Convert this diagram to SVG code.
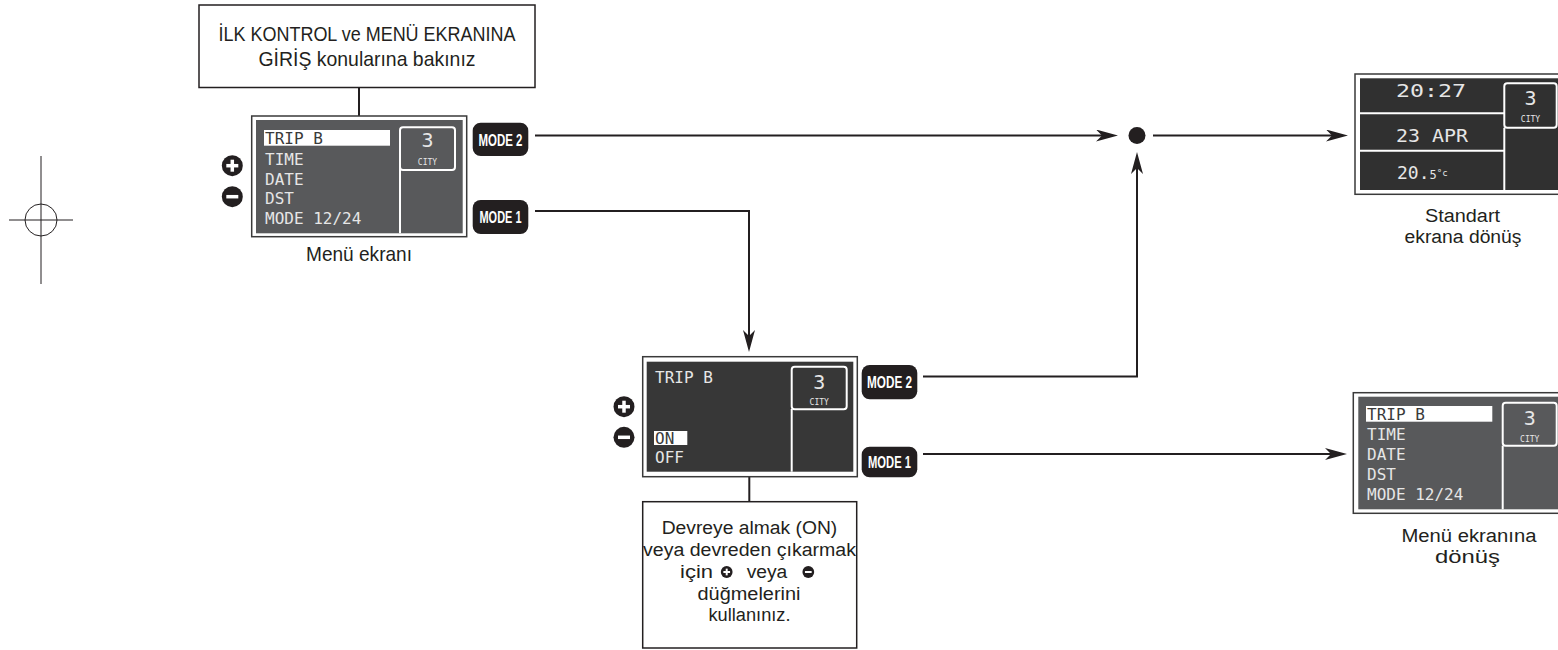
<svg xmlns="http://www.w3.org/2000/svg" width="1558" height="650" viewBox="0 0 1558 650">
<style>
.box{fill:#fff;stroke:#231f20;stroke-width:1.5}
.lbl{font-family:"Liberation Sans",Arial,sans-serif;font-size:21px;fill:#231f20}
.lbs{font-family:"Liberation Sans",Arial,sans-serif;font-size:18px;fill:#231f20}
.scr-o{fill:#fff;stroke:#3a3a3a;stroke-width:1.5}
.lcd{font-family:"DejaVu Sans Mono","Liberation Mono",monospace;font-size:16px;fill:#e6e6e6}
.lcd-hl{font-family:"DejaVu Sans Mono","Liberation Mono",monospace;font-size:16px;fill:#3a3a3a}
.hl{fill:#fff}
.div{stroke:#fff;stroke-width:2;fill:none}
.city{stroke:#fff;stroke-width:2}
.three{font-family:"DejaVu Sans Mono",monospace;font-size:20px;fill:#e6e6e6;text-anchor:middle}
.citytx{font-family:"DejaVu Sans Mono",monospace;font-size:8px;fill:#e6e6e6;text-anchor:middle}
.btn{fill:#231f20}
.btntx{font-family:"Liberation Sans",Arial,sans-serif;font-weight:bold;font-size:17px;fill:#fff}
.con{stroke:#231f20;stroke-width:2;fill:none}
.ico{fill:#231f20}
.icol{stroke:#fff;stroke-width:3.5;stroke-linecap:butt}
</style>
<defs>
<marker id="arr" markerUnits="userSpaceOnUse" markerWidth="24" markerHeight="14" refX="14" refY="6" orient="auto">
<path d="M0,0 L22,6 L0,12 L6,6 Z" fill="#231f20"/>
</marker>
<g id="plus"><circle r="10.5" class="ico"/><line x1="-6" y1="0" x2="6" y2="0" class="icol"/><line x1="0" y1="-6" x2="0" y2="6" class="icol"/></g>
<g id="minus"><circle r="10.5" class="ico"/><line x1="-6" y1="0" x2="6" y2="0" class="icol"/></g>
</defs>

<!-- registration mark -->
<g id="regmark" stroke="#231f20" stroke-width="1" fill="none">
<circle cx="41" cy="220" r="16"/>
<line x1="9" y1="220" x2="73" y2="220"/>
<line x1="41" y1="156" x2="41" y2="284"/>
</g>

<g id="connectors">
<line class="con" x1="359" y1="87.5" x2="359" y2="116"/>
<line class="con" x1="535" y1="135.5" x2="1110" y2="135.5" marker-end="url(#arr)"/>
<polyline class="con" points="535,211 749,211 749,344" marker-end="url(#arr)"/>
<line class="con" x1="749.3" y1="476.7" x2="749.3" y2="501.7"/>
<polyline class="con" points="923,376.5 1137,376.5 1137,160" marker-end="url(#arr)"/>
<line class="con" x1="923" y1="454" x2="1339" y2="454" marker-end="url(#arr)"/>
<line class="con" x1="1153" y1="135.5" x2="1340" y2="135.5" marker-end="url(#arr)"/>
<circle cx="1137" cy="135.5" r="8.5" fill="#231f20"/>
</g>

<g id="note-top">
<rect class="box" x="199" y="5" width="336" height="82.5"/>
<text class="lbl" x="367" y="41" text-anchor="middle" textLength="297" lengthAdjust="spacingAndGlyphs">İLK KONTROL ve MENÜ EKRANINA</text>
<text class="lbl" x="367" y="65.5" text-anchor="middle" textLength="217" lengthAdjust="spacingAndGlyphs">GİRİŞ konularına bakınız</text>
</g>

<g id="screen-menu">
<rect class="scr-o" x="251.7" y="116" width="215" height="120.7"/>
<rect x="256" y="120" width="206.7" height="113.3" fill="#58595b"/>
<rect class="hl" x="264" y="130" width="126" height="15.7"/>
<text class="lcd-hl" x="265" y="144">TRIP B</text>
<text class="lcd" x="265" y="165">TIME</text>
<text class="lcd" x="265" y="184.5">DATE</text>
<text class="lcd" x="265" y="204">DST</text>
<text class="lcd" x="265" y="223.5">MODE 12/24</text>
<line class="div" x1="400" y1="165" x2="400" y2="233.3"/>
<rect class="city" x="400" y="127.3" width="55" height="42.7" rx="3" fill="#58595b"/>
<text class="three" x="427.5" y="147">3</text>
<text class="citytx" x="427.5" y="165">CITY</text>
<use href="#plus" x="232.3" y="165.7"/>
<use href="#minus" x="232.3" y="196.7"/>
<text class="lbl" x="359" y="261" text-anchor="middle" textLength="106" lengthAdjust="spacingAndGlyphs">Menü ekranı</text>
</g>

<g id="btn-mode2-a">
<rect class="btn" x="472.7" y="122.7" width="55.6" height="33.3" rx="8"/>
<text class="btntx" x="500.5" y="145.5" text-anchor="middle" textLength="44" lengthAdjust="spacingAndGlyphs">MODE 2</text>
</g>
<g id="btn-mode1-a">
<rect class="btn" x="472.7" y="200" width="55.6" height="34" rx="8"/>
<text class="btntx" x="500.5" y="223" text-anchor="middle" textLength="42" lengthAdjust="spacingAndGlyphs">MODE 1</text>
</g>

<g id="screen-tripb">
<rect class="scr-o" x="642.7" y="356.7" width="214.6" height="120"/>
<rect x="646.7" y="361.7" width="206.6" height="110" fill="#373737"/>
<text class="lcd" x="655" y="383.3">TRIP B</text>
<rect class="hl" x="654" y="431" width="33.3" height="14"/>
<text class="lcd-hl" x="655" y="444">ON</text>
<text class="lcd" x="655" y="463.3">OFF</text>
<line class="div" x1="791.7" y1="409" x2="791.7" y2="471.7"/>
<rect class="city" x="791.7" y="366.7" width="55" height="42.6" rx="3" fill="#373737"/>
<text class="three" x="819.2" y="389">3</text>
<text class="citytx" x="819.2" y="405">CITY</text>
<use href="#plus" x="624" y="406.7"/>
<use href="#minus" x="624" y="437.3"/>
</g>

<g id="btn-mode2-b">
<rect class="btn" x="861.7" y="365" width="55.6" height="34.3" rx="8"/>
<text class="btntx" x="889.5" y="388" text-anchor="middle" textLength="45" lengthAdjust="spacingAndGlyphs">MODE 2</text>
</g>
<g id="btn-mode1-b">
<rect class="btn" x="861.7" y="446.7" width="55.6" height="30.6" rx="8"/>
<text class="btntx" x="889.5" y="468" text-anchor="middle" textLength="43" lengthAdjust="spacingAndGlyphs">MODE 1</text>
</g>

<g id="note-bottom">
<rect class="box" x="642.7" y="501.7" width="214" height="146.3"/>
<text class="lbs" x="749.5" y="534" text-anchor="middle" textLength="175.6" lengthAdjust="spacingAndGlyphs">Devreye almak (ON)</text>
<text class="lbs" x="749.5" y="556" text-anchor="middle" textLength="213" lengthAdjust="spacingAndGlyphs">veya devreden çıkarmak</text>
<text class="lbs" x="680" y="578" textLength="33" lengthAdjust="spacingAndGlyphs">için</text>
<g transform="translate(726.7,572) scale(0.56)"><circle r="10.5" class="ico"/><line x1="-6" y1="0" x2="6" y2="0" class="icol"/><line x1="0" y1="-6" x2="0" y2="6" class="icol"/></g>
<text class="lbs" x="746.7" y="578" textLength="40.6" lengthAdjust="spacingAndGlyphs">veya</text>
<g transform="translate(808.3,572) scale(0.56)"><circle r="10.5" class="ico"/><line x1="-6" y1="0" x2="6" y2="0" class="icol"/></g>
<text class="lbs" x="749" y="599.5" text-anchor="middle" textLength="103" lengthAdjust="spacingAndGlyphs">düğmelerini</text>
<text class="lbs" x="749.5" y="621" text-anchor="middle" textLength="82" lengthAdjust="spacingAndGlyphs">kullanınız.</text>
</g>

<g id="screen-standard">
<rect class="scr-o" x="1355" y="74" width="215" height="120.3"/>
<rect x="1360" y="78.3" width="210" height="111.7" fill="#303030"/>
<line class="div" x1="1360" y1="113.3" x2="1504.3" y2="113.3"/>
<line class="div" x1="1360" y1="150.7" x2="1504.3" y2="150.7"/>
<line class="div" x1="1504.3" y1="127.7" x2="1504.3" y2="190"/>
<rect class="city" x="1504.3" y="83.3" width="52.4" height="44.4" rx="3" fill="#303030"/>
<text class="three" x="1530.5" y="105">3</text>
<text class="citytx" x="1530.5" y="122.3">CITY</text>
<text class="lcd" style="font-size:18px" x="1396" y="96.7" textLength="70" lengthAdjust="spacingAndGlyphs">20:27</text>
<text class="lcd" style="font-size:18px" x="1396" y="141.7" textLength="72" lengthAdjust="spacingAndGlyphs">23 APR</text>
<text class="lcd" style="font-size:18px" x="1397" y="179">20.<tspan style="font-size:12px">5</tspan><tspan style="font-size:9px" dy="-3">°c</tspan></text>
<text class="lbs" x="1462.5" y="222" text-anchor="middle" textLength="75" lengthAdjust="spacingAndGlyphs">Standart</text>
<text class="lbs" x="1463" y="243" text-anchor="middle" textLength="117" lengthAdjust="spacingAndGlyphs">ekrana dönüş</text>
</g>

<g id="screen-menu-return">
<rect class="scr-o" x="1353.3" y="392.7" width="215" height="120.6"/>
<rect x="1358.3" y="396.7" width="210" height="112.6" fill="#58595b"/>
<rect class="hl" x="1366" y="406" width="126.3" height="15.7"/>
<text class="lcd-hl" x="1367" y="420">TRIP B</text>
<text class="lcd" x="1367" y="440">TIME</text>
<text class="lcd" x="1367" y="460">DATE</text>
<text class="lcd" x="1367" y="480">DST</text>
<text class="lcd" x="1367" y="499.5">MODE 12/24</text>
<line class="div" x1="1502.7" y1="445.7" x2="1502.7" y2="509.3"/>
<rect class="city" x="1502.7" y="402.7" width="54" height="43" rx="3" fill="#58595b"/>
<text class="three" x="1529.7" y="425">3</text>
<text class="citytx" x="1529.7" y="441.7">CITY</text>
<text class="lbs" x="1469" y="542" text-anchor="middle" textLength="135" lengthAdjust="spacingAndGlyphs">Menü ekranına</text>
<text class="lbs" x="1467.5" y="563" text-anchor="middle" textLength="65" lengthAdjust="spacingAndGlyphs">dönüş</text>
</g>
</svg>
